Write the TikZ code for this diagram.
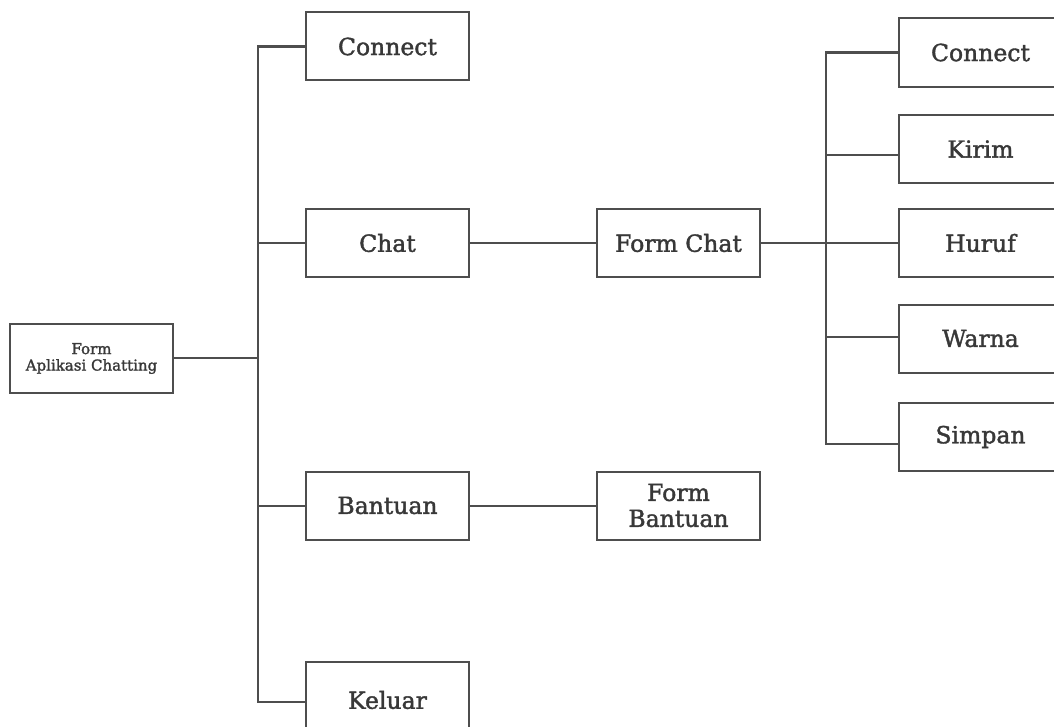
\documentclass[tikz,border=0pt]{standalone}
\usepackage{fontspec}
\setmainfont{DejaVu Serif}
\newfontfamily\labelfont[FakeBold=1.6]{DejaVu Serif}
\definecolor{ink}{HTML}{383838}
\definecolor{rule}{HTML}{4E4E4E}
\tikzset{
  menubox/.style={draw=rule, line width=2pt, fill=white, minimum width=163pt,
    minimum height=68pt, inner sep=0pt, text=ink, font=\labelfont\fontsize{23.5}{28}\selectfont},
  rootbox/.style={menubox, minimum height=69pt, font=\labelfont\fontsize{15}{16.5}\selectfont, align=center},
  link/.style={draw=rule, line width=2pt},
  trunk/.style={draw=rule, line width=2.4pt}
}
\begin{document}
\begin{tikzpicture}[x=1pt, y=-1pt]
  \useasboundingbox (0,0) rectangle (1054,727);
  \clip (0,0) rectangle (1054,727);

  % root form
  \node[rootbox] (root) at (91.5,358.5) {Form\\Aplikasi Chatting};

  % first menu level
  \node[menubox] (connect) at (387.5,46.5) {Connect};
  \node[menubox] (chat)    at (387.5,243)  {Chat};
  \node[menubox] (bantuan) at (387.5,505.5) {Bantuan};
  \node[menubox, minimum height=76pt] (keluar) at (387.5,700) {Keluar};

  % sub forms
  \node[menubox] (formchat)    at (678.5,243)   {Form Chat};
  \node[menubox, align=center, font=\labelfont\fontsize{23.5}{26}\selectfont] (formbantuan) at (678.5,505.5) {Form\\Bantuan};

  % chat form items
  \node[menubox, minimum height=69pt] (rconnect) at (980.5,52.5) {Connect};
  \node[menubox] (kirim)  at (980.5,149)   {Kirim};
  \node[menubox] (huruf)  at (980.5,243)   {Huruf};
  \node[menubox] (warna)  at (980.5,338.5) {Warna};
  \node[menubox] (simpan) at (980.5,437)   {Simpan};

  % left trunk
  \coordinate (lt1) at (258,46.5);
  \coordinate (lt2) at (258,243);
  \coordinate (lt3) at (258,505.5);
  \coordinate (lt4) at (258,702);
  \coordinate (lt0) at (258,358);
  \draw[trunk] (lt1 -| connect.west) -- (lt1) -- (lt4) -- (lt4 -| keluar.west);
  \draw[trunk] (root.east |- lt0) -- (lt0);
  \draw[link] (lt2) -- (chat.west);
  \draw[link] (lt3) -- (bantuan.west);

  % middle links
  \draw[link] (chat.east) -- (formchat.west);
  \draw[link] (bantuan.east) -- (formbantuan.west);

  % right trunk
  \coordinate (rt1) at (826,52.5);
  \coordinate (rt2) at (826,155);
  \coordinate (rt3) at (826,243);
  \coordinate (rt4) at (826,337);
  \coordinate (rt5) at (826,444);
  \draw[trunk] (rt1 -| rconnect.west) -- (rt1) -- (rt5) -- (rt5 -| simpan.west);
  \draw[link] (rt2) -- (rt2 -| kirim.west);
  \draw[link] (formchat.east) -- (huruf.west);
  \draw[link] (rt4) -- (rt4 -| warna.west);
\end{tikzpicture}
\end{document}
